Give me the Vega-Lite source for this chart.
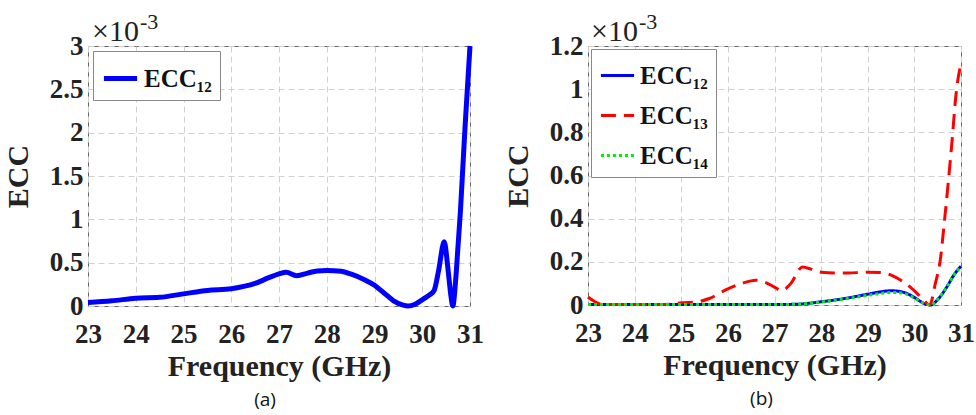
{
  "$schema": "https://vega.github.io/schema/vega-lite/v6.json",
  "background": "white",
  "padding": {"left": 2, "top": 10, "right": 0, "bottom": 0},
  "spacing": 18,
  "config": {
    "view": {"stroke": "#666", "strokeWidth": 1},
    "axis": {
      "labelFont": "Liberation Serif", "labelFontWeight": "bold", "labelFontSize": 27, "labelColor": "#222",
      "titleFont": "Liberation Serif", "titleFontWeight": "bold", "titleFontSize": 30, "titleColor": "#222",
      "domain": false, "ticks": false, "grid": true, "gridColor": "#d0d0d0", "gridDash": [6, 4], "gridWidth": 1,
      "labelFlush": false, "labelOverlap": false
    },
    "legend": {
      "orient": "top-left", "offset": 5, "padding": 8, "strokeColor": "#888", "fillColor": "white",
      "labelFont": "Liberation Serif", "labelFontWeight": "bold", "labelFontSize": 25, "labelColor": "#111",
      "symbolType": "stroke", "symbolSize": 1100, "rowPadding": 8, "labelOffset": 4, "title": null
    }
  },
  "resolve": {"scale": {"color": "independent", "strokeDash": "independent", "y": "independent"}, "legend": {"color": "independent", "strokeDash": "independent"}},
  "hconcat": [
    {
      "width": 382, "height": 260,
      "title": {"text": "(a)", "orient": "bottom", "font": "Open Sans", "fontSize": 19, "fontWeight": "normal", "color": "#111", "offset": 10, "dx": -14},
      "layer": [
        {
          "data": {"values": [
            {"freq": 23.0, "ecc": 0.04, "series": "ECC₁₂"},
            {"freq": 23.5, "ecc": 0.06, "series": "ECC₁₂"},
            {"freq": 24.0, "ecc": 0.09, "series": "ECC₁₂"},
            {"freq": 24.5, "ecc": 0.10, "series": "ECC₁₂"},
            {"freq": 25.0, "ecc": 0.14, "series": "ECC₁₂"},
            {"freq": 25.5, "ecc": 0.18, "series": "ECC₁₂"},
            {"freq": 26.0, "ecc": 0.20, "series": "ECC₁₂"},
            {"freq": 26.5, "ecc": 0.26, "series": "ECC₁₂"},
            {"freq": 26.8, "ecc": 0.33, "series": "ECC₁₂"},
            {"freq": 27.0, "ecc": 0.37, "series": "ECC₁₂"},
            {"freq": 27.15, "ecc": 0.39, "series": "ECC₁₂"},
            {"freq": 27.37, "ecc": 0.35, "series": "ECC₁₂"},
            {"freq": 27.6, "ecc": 0.38, "series": "ECC₁₂"},
            {"freq": 27.8, "ecc": 0.405, "series": "ECC₁₂"},
            {"freq": 28.0, "ecc": 0.41, "series": "ECC₁₂"},
            {"freq": 28.3, "ecc": 0.40, "series": "ECC₁₂"},
            {"freq": 28.5, "ecc": 0.37, "series": "ECC₁₂"},
            {"freq": 28.8, "ecc": 0.30, "series": "ECC₁₂"},
            {"freq": 29.0, "ecc": 0.24, "series": "ECC₁₂"},
            {"freq": 29.2, "ecc": 0.15, "series": "ECC₁₂"},
            {"freq": 29.4, "ecc": 0.06, "series": "ECC₁₂"},
            {"freq": 29.6, "ecc": 0.01, "series": "ECC₁₂"},
            {"freq": 29.7, "ecc": 0.0, "series": "ECC₁₂"},
            {"freq": 29.85, "ecc": 0.02, "series": "ECC₁₂"},
            {"freq": 30.02, "ecc": 0.08, "series": "ECC₁₂"},
            {"freq": 30.16, "ecc": 0.13, "series": "ECC₁₂"},
            {"freq": 30.25, "ecc": 0.18, "series": "ECC₁₂"},
            {"freq": 30.34, "ecc": 0.40, "series": "ECC₁₂"},
            {"freq": 30.46, "ecc": 0.74, "series": "ECC₁₂"},
            {"freq": 30.54, "ecc": 0.42, "series": "ECC₁₂"},
            {"freq": 30.6, "ecc": 0.12, "series": "ECC₁₂"},
            {"freq": 30.64, "ecc": 0.0, "series": "ECC₁₂"},
            {"freq": 30.7, "ecc": 0.3, "series": "ECC₁₂"},
            {"freq": 30.75, "ecc": 0.7, "series": "ECC₁₂"},
            {"freq": 30.8, "ecc": 1.1, "series": "ECC₁₂"},
            {"freq": 30.85, "ecc": 1.6, "series": "ECC₁₂"},
            {"freq": 30.9, "ecc": 2.1, "series": "ECC₁₂"},
            {"freq": 30.95, "ecc": 2.55, "series": "ECC₁₂"},
            {"freq": 31.0, "ecc": 3.0, "series": "ECC₁₂"}
          ]},
          "mark": {"type": "line", "strokeWidth": 5, "interpolate": "monotone"},
          "encoding": {
            "x": {"field": "freq", "type": "quantitative", "scale": {"domain": [23, 31], "nice": false}, "axis": {"title": "Frequency (GHz)", "values": [23,24,25,26,27,28,29,30,31], "format": "d", "labelPadding": 15, "titlePadding": 4}},
            "y": {"field": "ecc", "type": "quantitative", "scale": {"domain": [0, 3], "nice": false}, "axis": {"title": "ECC", "values": [0,0.5,1,1.5,2,2.5,3], "format": "~g", "labelPadding": 5, "minExtent": 50, "maxExtent": 50, "titlePadding": 5}},
            "color": {"field": "series", "type": "nominal", "scale": {"domain": ["ECC₁₂"], "range": ["#0000ff"]}, "legend": {"symbolStrokeWidth": 5}}
          }
        },
        {
          "data": {"values": [{"t": "×10"}]},
          "mark": {"type": "text", "font": "Liberation Serif", "fontSize": 30, "align": "left", "baseline": "alphabetic", "dx": 4, "dy": -5, "color": "#222"},
          "encoding": {"x": {"datum": 23}, "y": {"datum": 3}, "text": {"field": "t"}}
        },
        {
          "data": {"values": [{"t": "-3"}]},
          "mark": {"type": "text", "font": "Liberation Serif", "fontSize": 22, "align": "left", "baseline": "alphabetic", "dx": 52, "dy": -17, "color": "#222"},
          "encoding": {"x": {"datum": 23}, "y": {"datum": 3}, "text": {"field": "t"}}
        }
      ]
    },
    {
      "width": 373, "height": 259,
      "title": {"text": "(b)", "orient": "bottom", "font": "Open Sans", "fontSize": 19, "fontWeight": "normal", "color": "#111", "offset": 10, "dx": -13},
      "layer": [
        {
          "data": {"values": [
            {"freq": 23.0, "ecc": 0.002, "series": "ECC₁₂"},
            {"freq": 24.0, "ecc": 0.002, "series": "ECC₁₂"},
            {"freq": 25.0, "ecc": 0.002, "series": "ECC₁₂"},
            {"freq": 26.0, "ecc": 0.002, "series": "ECC₁₂"},
            {"freq": 27.0, "ecc": 0.002, "series": "ECC₁₂"},
            {"freq": 27.5, "ecc": 0.004, "series": "ECC₁₂"},
            {"freq": 28.0, "ecc": 0.015, "series": "ECC₁₂"},
            {"freq": 28.5, "ecc": 0.03, "series": "ECC₁₂"},
            {"freq": 29.0, "ecc": 0.05, "series": "ECC₁₂"},
            {"freq": 29.25, "ecc": 0.06, "series": "ECC₁₂"},
            {"freq": 29.5, "ecc": 0.066, "series": "ECC₁₂"},
            {"freq": 29.75, "ecc": 0.06, "series": "ECC₁₂"},
            {"freq": 30.0, "ecc": 0.035, "series": "ECC₁₂"},
            {"freq": 30.2, "ecc": 0.008, "series": "ECC₁₂"},
            {"freq": 30.35, "ecc": 0.0, "series": "ECC₁₂"},
            {"freq": 30.5, "ecc": 0.025, "series": "ECC₁₂"},
            {"freq": 30.7, "ecc": 0.085, "series": "ECC₁₂"},
            {"freq": 30.85, "ecc": 0.14, "series": "ECC₁₂"},
            {"freq": 31.0, "ecc": 0.18, "series": "ECC₁₂"},
            {"freq": 23.0, "ecc": 0.037, "series": "ECC₁₃"},
            {"freq": 23.15, "ecc": 0.015, "series": "ECC₁₃"},
            {"freq": 23.3, "ecc": 0.002, "series": "ECC₁₃"},
            {"freq": 24.0, "ecc": 0.002, "series": "ECC₁₃"},
            {"freq": 24.5, "ecc": 0.002, "series": "ECC₁₃"},
            {"freq": 24.8, "ecc": 0.004, "series": "ECC₁₃"},
            {"freq": 25.0, "ecc": 0.01, "series": "ECC₁₃"},
            {"freq": 25.3, "ecc": 0.013, "series": "ECC₁₃"},
            {"freq": 25.6, "ecc": 0.03, "series": "ECC₁₃"},
            {"freq": 26.0, "ecc": 0.075, "series": "ECC₁₃"},
            {"freq": 26.3, "ecc": 0.1, "series": "ECC₁₃"},
            {"freq": 26.6, "ecc": 0.115, "series": "ECC₁₃"},
            {"freq": 26.8, "ecc": 0.105, "series": "ECC₁₃"},
            {"freq": 27.0, "ecc": 0.083, "series": "ECC₁₃"},
            {"freq": 27.15, "ecc": 0.066, "series": "ECC₁₃"},
            {"freq": 27.35, "ecc": 0.1, "series": "ECC₁₃"},
            {"freq": 27.6, "ecc": 0.176, "series": "ECC₁₃"},
            {"freq": 27.8, "ecc": 0.165, "series": "ECC₁₃"},
            {"freq": 28.0, "ecc": 0.152, "series": "ECC₁₃"},
            {"freq": 28.5, "ecc": 0.148, "series": "ECC₁₃"},
            {"freq": 29.0, "ecc": 0.152, "series": "ECC₁₃"},
            {"freq": 29.3, "ecc": 0.15, "series": "ECC₁₃"},
            {"freq": 29.6, "ecc": 0.128, "series": "ECC₁₃"},
            {"freq": 29.9, "ecc": 0.085, "series": "ECC₁₃"},
            {"freq": 30.15, "ecc": 0.035, "series": "ECC₁₃"},
            {"freq": 30.33, "ecc": 0.0, "series": "ECC₁₃"},
            {"freq": 30.45, "ecc": 0.1, "series": "ECC₁₃"},
            {"freq": 30.55, "ecc": 0.2, "series": "ECC₁₃"},
            {"freq": 30.65, "ecc": 0.4, "series": "ECC₁₃"},
            {"freq": 30.8, "ecc": 0.74, "series": "ECC₁₃"},
            {"freq": 30.9, "ecc": 0.99, "series": "ECC₁₃"},
            {"freq": 31.0, "ecc": 1.12, "series": "ECC₁₃"},
            {"freq": 23.0, "ecc": 0.002, "series": "ECC₁₄"},
            {"freq": 24.0, "ecc": 0.002, "series": "ECC₁₄"},
            {"freq": 25.0, "ecc": 0.002, "series": "ECC₁₄"},
            {"freq": 26.0, "ecc": 0.002, "series": "ECC₁₄"},
            {"freq": 27.0, "ecc": 0.002, "series": "ECC₁₄"},
            {"freq": 27.5, "ecc": 0.004, "series": "ECC₁₄"},
            {"freq": 28.0, "ecc": 0.014, "series": "ECC₁₄"},
            {"freq": 28.5, "ecc": 0.028, "series": "ECC₁₄"},
            {"freq": 29.0, "ecc": 0.045, "series": "ECC₁₄"},
            {"freq": 29.25, "ecc": 0.053, "series": "ECC₁₄"},
            {"freq": 29.5, "ecc": 0.058, "series": "ECC₁₄"},
            {"freq": 29.75, "ecc": 0.055, "series": "ECC₁₄"},
            {"freq": 30.0, "ecc": 0.033, "series": "ECC₁₄"},
            {"freq": 30.2, "ecc": 0.008, "series": "ECC₁₄"},
            {"freq": 30.35, "ecc": 0.0, "series": "ECC₁₄"},
            {"freq": 30.5, "ecc": 0.025, "series": "ECC₁₄"},
            {"freq": 30.7, "ecc": 0.085, "series": "ECC₁₄"},
            {"freq": 30.85, "ecc": 0.14, "series": "ECC₁₄"},
            {"freq": 31.0, "ecc": 0.18, "series": "ECC₁₄"}
          ]},
          "mark": {"type": "line", "strokeWidth": 3, "interpolate": "monotone"},
          "encoding": {
            "x": {"field": "freq", "type": "quantitative", "scale": {"domain": [23, 31], "nice": false}, "axis": {"title": "Frequency (GHz)", "values": [23,24,25,26,27,28,29,30,31], "format": "d", "labelPadding": 15, "titlePadding": 4}},
            "y": {"field": "ecc", "type": "quantitative", "scale": {"domain": [0, 1.2], "nice": false}, "axis": {"title": "ECC", "values": [0,0.2,0.4,0.6,0.8,1,1.2], "format": "~g", "labelPadding": 5, "minExtent": 50, "maxExtent": 50, "titlePadding": 5}},
            "color": {"field": "series", "type": "nominal", "scale": {"domain": ["ECC₁₂", "ECC₁₃", "ECC₁₄"], "range": ["#0000ff", "#ff0000", "#00ee00"]}, "legend": {"symbolStrokeWidth": 3, "offset": 3}},
            "strokeDash": {"field": "series", "type": "nominal", "scale": {"domain": ["ECC₁₂", "ECC₁₃", "ECC₁₄"], "range": [[1, 0], [15, 8], [3, 3]]}, "legend": {"symbolStrokeWidth": 3, "offset": 3}}
          }
        },
        {
          "data": {"values": [{"t": "×10"}]},
          "mark": {"type": "text", "font": "Liberation Serif", "fontSize": 30, "align": "left", "baseline": "alphabetic", "dx": 3, "dy": -5, "color": "#222"},
          "encoding": {"x": {"datum": 23}, "y": {"datum": 1.2}, "text": {"field": "t"}}
        },
        {
          "data": {"values": [{"t": "-3"}]},
          "mark": {"type": "text", "font": "Liberation Serif", "fontSize": 22, "align": "left", "baseline": "alphabetic", "dx": 51, "dy": -17, "color": "#222"},
          "encoding": {"x": {"datum": 23}, "y": {"datum": 1.2}, "text": {"field": "t"}}
        }
      ]
    }
  ]
}
